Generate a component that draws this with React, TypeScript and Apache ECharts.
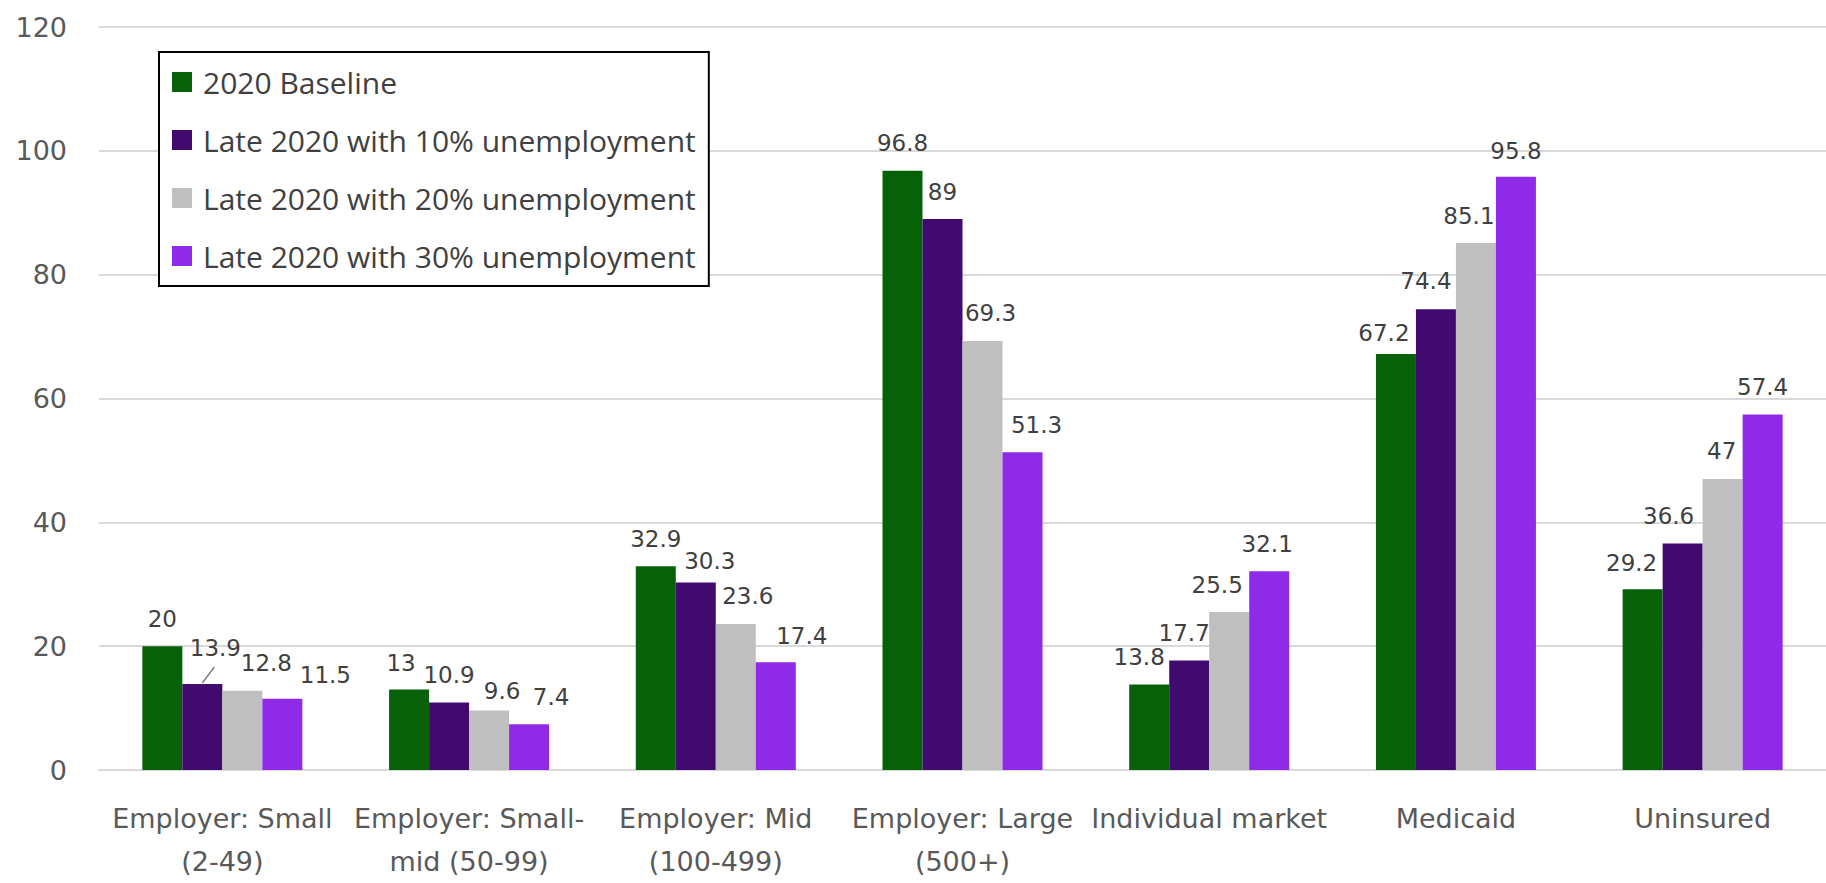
import React, { useEffect, useRef } from "react";
import * as echarts from "echarts";

const categories = [
  "Employer: Small\n(2-49)",
  "Employer: Small-\nmid (50-99)",
  "Employer: Mid\n(100-499)",
  "Employer: Large\n(500+)",
  "Individual market",
  "Medicaid",
  "Uninsured",
];

const seriesNames = [
  "2020 Baseline",
  "Late 2020 with 10% unemployment",
  "Late 2020 with 20% unemployment",
  "Late 2020 with 30% unemployment",
];

const baseline = [20, 13, 32.9, 96.8, 13.8, 67.2, 29.2];
const unemp10 = [13.9, 10.9, 30.3, 89, 17.7, 74.4, 36.6];
const unemp20 = [12.8, 9.6, 23.6, 69.3, 25.5, 85.1, 47];
const unemp30 = [11.5, 7.4, 17.4, 51.3, 32.1, 95.8, 57.4];

const yMin = 0;
const yMax = 120;
const yInterval = 20;

const seriesColors = ["#066108", "#410a6e", "#bfbfbf", "#8f2ae8"];

// label nudges (dx, dy) per series / category, relative to default "top" placement
const labelOffsets: number[][][] = [
  [[0, 0], [-8, 1], [0, 0], [0, 0], [-10, 0], [-12, 7], [-11, 1]],
  [[13, -8], [0, 0], [14, 6], [0, 1], [-5, 0], [-10, -1], [-14, 0]],
  [[24, 0], [13, 8], [12, 0], [8, 0], [-12, 0], [-7, 0], [-1, 0]],
  [[43, 4], [22, 0], [26, 1], [14, 0], [-2, 0], [0, 2], [0, 0]],
];

// leader line: series index 1 ("10%"), category index 0
const leaderSeries = 1;
const leaderCategory = 0;

export default function App() {
  const ref = useRef<HTMLDivElement>(null);

  useEffect(() => {
    if (!ref.current) return;
    const chart = echarts.init(ref.current, undefined, { renderer: "svg" });
    const allValues = [baseline, unemp10, unemp20, unemp30];
    const barWidth = 40;

    const series: any[] = allValues.map((vals, si) => ({
      name: seriesNames[si],
      type: "bar",
      barWidth,
      barGap: "0%",
      itemStyle: { color: seriesColors[si] },
      data: vals,
      label: {
        show: true,
        position: "top",
        distance: 16,
        fontFamily: "DejaVu Sans",
        fontSize: 23,
        color: "#404040",
      },
      labelLayout: (params: any) => {
        const off = labelOffsets[params.seriesIndex][params.dataIndex];
        return { dx: off[0], dy: off[1] };
      },
    }));

    series.push({
      type: "custom",
      name: "leader",
      silent: true,
      z: 5,
      data: [[leaderCategory, allValues[leaderSeries][leaderCategory]]],
      renderItem: (params: any, api: any) => {
        const p = api.coord([api.value(0), api.value(1)]);
        const offset = (leaderSeries - (allValues.length - 1) / 2) * barWidth;
        const x = p[0] + offset;
        return {
          type: "line",
          shape: { x1: x, y1: p[1] - 1, x2: x + 12, y2: p[1] - 17 },
          style: { stroke: "#7f7f7f", lineWidth: 1.5 },
        };
      },
    });

    chart.setOption({
      animation: false,
      backgroundColor: "#ffffff",
      grid: { left: 99, top: 27, width: 1736, height: 755, containLabel: false },
      legend: {
        orient: "vertical",
        left: 159,
        top: 52,
        padding: [15, 13, 15, 13],
        itemWidth: 20,
        itemHeight: 20,
        itemGap: 28,
        icon: "rect",
        borderColor: "#000000",
        borderWidth: 2,
        backgroundColor: "#ffffff",
        selectedMode: false,
        textStyle: {
          fontFamily: "Open Sans",
          fontSize: 30,
          color: "#404040",
          lineHeight: 30,
          padding: [0, 0, 0, 6],
        },
        data: seriesNames,
      },
      xAxis: {
        type: "category",
        data: categories,
        axisLine: { show: true, lineStyle: { color: "#d9d9d9", width: 2 } },
        axisTick: { show: false },
        axisLabel: {
          interval: 0,
          margin: 27,
          fontFamily: "DejaVu Sans",
          fontSize: 27,
          lineHeight: 43,
          color: "#595959",
        },
      },
      yAxis: {
        type: "value",
        min: yMin,
        max: yMax,
        interval: yInterval,
        axisLine: { show: false },
        axisTick: { show: false },
        axisLabel: {
          margin: 32,
          fontFamily: "DejaVu Sans",
          fontSize: 27,
          color: "#595959",
        },
        splitLine: { lineStyle: { color: "#d9d9d9", width: 2 } },
      },
      series,
    });

    return () => chart.dispose();
  }, []);

  return (
    <div
      ref={ref}
      style={{
        position: "fixed",
        left: 0,
        top: 0,
        width: 1826,
        height: 883,
        background: "#ffffff",
      }}
    />
  );
}
